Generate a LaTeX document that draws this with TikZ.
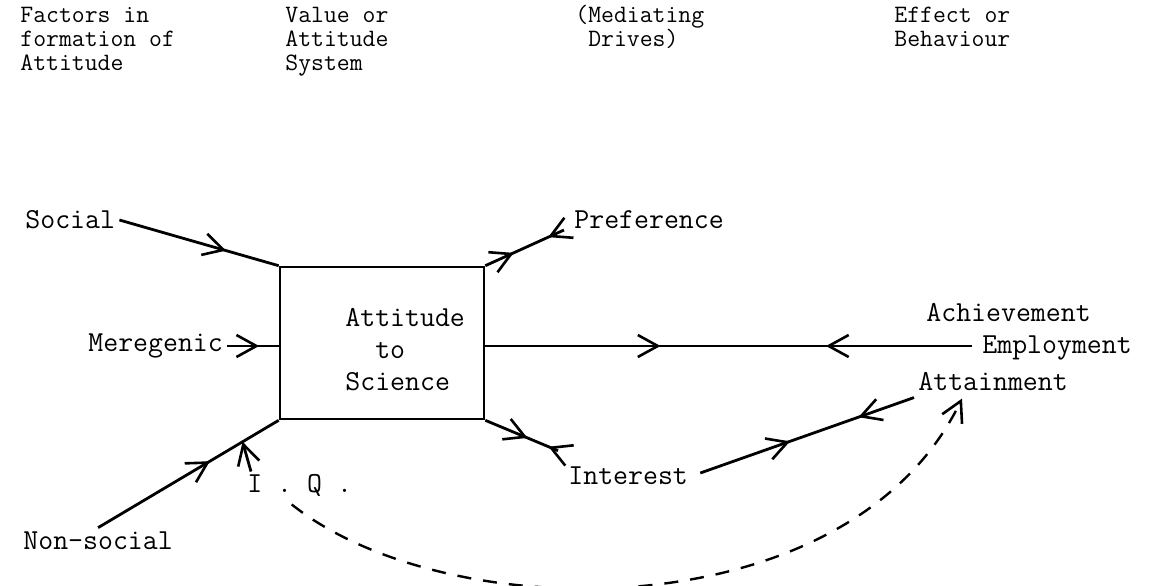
\documentclass[tikz,border=0pt]{standalone}
\usepackage{fontspec}
\usetikzlibrary{arrows.meta,decorations.markings,calc}
\setlength{\lineskiplimit}{-20pt}
\tikzset{
  lbl/.style={font=\fontsize{14.5}{12}\selectfont\ttfamily, inner sep=2pt, anchor=west},
  hdr/.style={lbl, font=\fontsize{12.5}{11.9}\selectfont\ttfamily, anchor=north west, align=left},
  ln/.style={line width=1.4pt},
  >={Straight Barb[length=10pt,width=11pt,line width=1.3pt]},
  tipat/.style={postaction={decorate},
    decoration={markings, mark=at position #1 with {\arrow{>}}}},
  twoway/.style 2 args={postaction={decorate},
    decoration={markings, mark=at position #1 with {\arrow{>}},
      mark=at position #2 with {\arrowreversed{>}}}}
}
\begin{document}
\begin{tikzpicture}[x=0.5pt,y=-0.5pt]
            \useasboundingbox (0,0) rectangle (1156,585);
            \node[hdr] (factors) at (16,3) {Factors in\\formation of\\Attitude};
            \node[hdr] (valuesys) at (281,3) {Value or\\Attitude\\System};
            \node[hdr] (mediating) at (571,1) {(Mediating\\~Drives)};
            \node[hdr] (effect) at (890,3) {Effect or\\Behaviour};
            \node[lbl] (social) at (21,220) {Social};
            \node[lbl] (mereg) at (84,346) {Meregenic};
            \node[lbl] (nonsocial) at (19,541) {Non-social};
            \node[lbl] (iq) at (243,485) {I . Q .};
            \node[lbl] (preference) at (570,220) {Preference};
            \node[lbl] (interest) at (564,476) {Interest};
            \node[lbl] (achieve) at (922,313) {Achievement};
            \node[lbl] (employ) at (978,348) {Employment};
            \node[lbl] (attain) at (914,382) {Attainment};
            \node[draw, line width=1.3pt, minimum width=102pt, minimum height=76pt] (box) at (382,343) {};
            \node[lbl, font=\fontsize{14.5}{16}\selectfont\ttfamily, align=left] (boxtext) at (341,350) {Attitude\\~~to\\Science};
            \coordinate (iqtip) at ($(nonsocial.north)!0.8!(box.south west)$);
            \coordinate (prefend) at ($(preference.west)+(-6,10)$);
            \coordinate (intend) at ($(interest.north west)+(-6,-12)$);
            \coordinate (employend) at ($(employ.west)+(-6,-2)$);
            \coordinate (iqdash) at ($(iq.south)+(-8,4)$);
            \coordinate (attaintip) at ($(attain.south west)+(48,3)$);
            \draw[ln, tipat=0.67] (social.east) -- (box.north west);
            \draw[ln, tipat=0.62] (mereg.east) -- (mereg.east -| box.west);
            \draw[ln, tipat=0.62] (nonsocial.north) -- (box.south west);
            \draw[ln, ->] ($(iq.north west)+(8,2)$) -- (iqtip);
            \draw[ln, twoway={0.36}{0.8}] (box.north east) -- (prefend);
            \draw[ln, twoway={0.58}{0.87}] (box.south east) -- (intend);
            \draw[ln, twoway={0.36}{0.7}] (box.east |- employend) -- (employend);
            \draw[ln, twoway={0.42}{0.74}] ($(interest.east)+(8,-3)$) -- ($(attain.south west)+(0,2)$);
            \draw[line width=1.2pt, dash pattern=on 7pt off 6pt, ->] (iqdash) .. controls (450,630) and (850,630) .. (attaintip);
        \end{tikzpicture}
\end{document}
